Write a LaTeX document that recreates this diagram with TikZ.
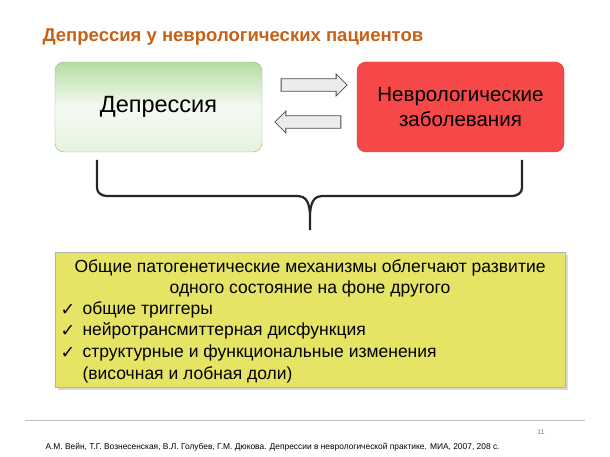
\documentclass[tikz,border=0pt]{standalone}
\usepackage{fontspec}
\setmainfont{Liberation Sans}
\newfontfamily\symfont{DejaVu Sans}
\usetikzlibrary{positioning,shadows,shapes.arrows}
\definecolor{titlecol}{RGB}{196,98,24}
\definecolor{boxred}{RGB}{246,72,72}
\definecolor{boxgreen}{RGB}{150,205,120}
\definecolor{boxyellow}{RGB}{230,228,100}
\tikzset{
  topbox/.style={draw=gray!70, rounded corners=9pt, minimum width=207pt,
    minimum height=90pt, align=center, font=\fontsize{20.5}{25}\selectfont},
  hollowarrow/.style={single arrow, draw=gray!60!black, fill=gray!15, thick,
    minimum height=66pt, minimum width=22pt, single arrow head extend=3pt,
    inner sep=3.5pt},
  bullet/.style={anchor=west, font=\fontsize{17.5}{21}\selectfont},
}
\begin{document}
\begin{tikzpicture}[x=1pt,y=-1pt]
\useasboundingbox (0,0) rectangle (610,457);
\node[anchor=west, text=titlecol, font=\bfseries\fontsize{18.5}{21}\selectfont] (title) at (39,37) {Депрессия у неврологических пациентов};

\node[topbox, top color=boxgreen!70, bottom color=boxgreen!25, middle color=white!90!boxgreen, draw=boxgreen!70!gray,
  font=\fontsize{23.5}{28}\selectfont] (dep) at (158.5,107) {Депрессия};
\node[topbox, fill=boxred, draw=boxred!80!black] (nevr) at (460.5,107) {Неврологические\\заболевания};

\node[hollowarrow] (ar) at (311,85) {};
\node[hollowarrow, shape border rotate=180] (al) at (311,122) {};

% brace
\draw[gray!30!black, line width=2.2pt] (97,160) -- (97,188) to[out=-90,in=180] (107,196)
  -- (298,196) to[out=0,in=90] (310,230) to[out=90,in=180] (322,196)
  -- (512,196) to[out=0,in=-90] (522,188) -- (522,160);

\node[draw=gray!60, fill=boxyellow, drop shadow={opacity=0.3}, minimum width=510pt,
  minimum height=135pt] (mech) at (310,319.5) {};
\node[font=\fontsize{17.5}{21}\selectfont, align=center] (head) at (310,278.5) {Общие патогенетические механизмы облегчают развитие\\одного состояние на фоне другого};
\foreach \y/\t [count=\i] in {310/общие триггеры, 331/нейротрансмиттерная дисфункция, 353/структурные и функциональные изменения} {
  \node[bullet] (chk\i) at (57,\y) {\symfont ✓};
  \node[bullet] (item\i) at (79,\y) {\t};
}
\node[bullet] (item4) at (79,375) {(височная и лобная доли)};

\draw[gray!50] (25,420) -- (585,420);
\node[text=gray, font=\fontsize{7}{8}\selectfont] (page) at (541,432) {11};
\node[anchor=west, font=\fontsize{8.4}{10}\selectfont] (ref) at (42,447) {А.М. Вейн, Т.Г. Вознесенская, В.Л. Голубев, Г.М. Дюкова. Депрессии в неврологической практике. МИА, 2007, 208 с.};
\end{tikzpicture}
\end{document}
